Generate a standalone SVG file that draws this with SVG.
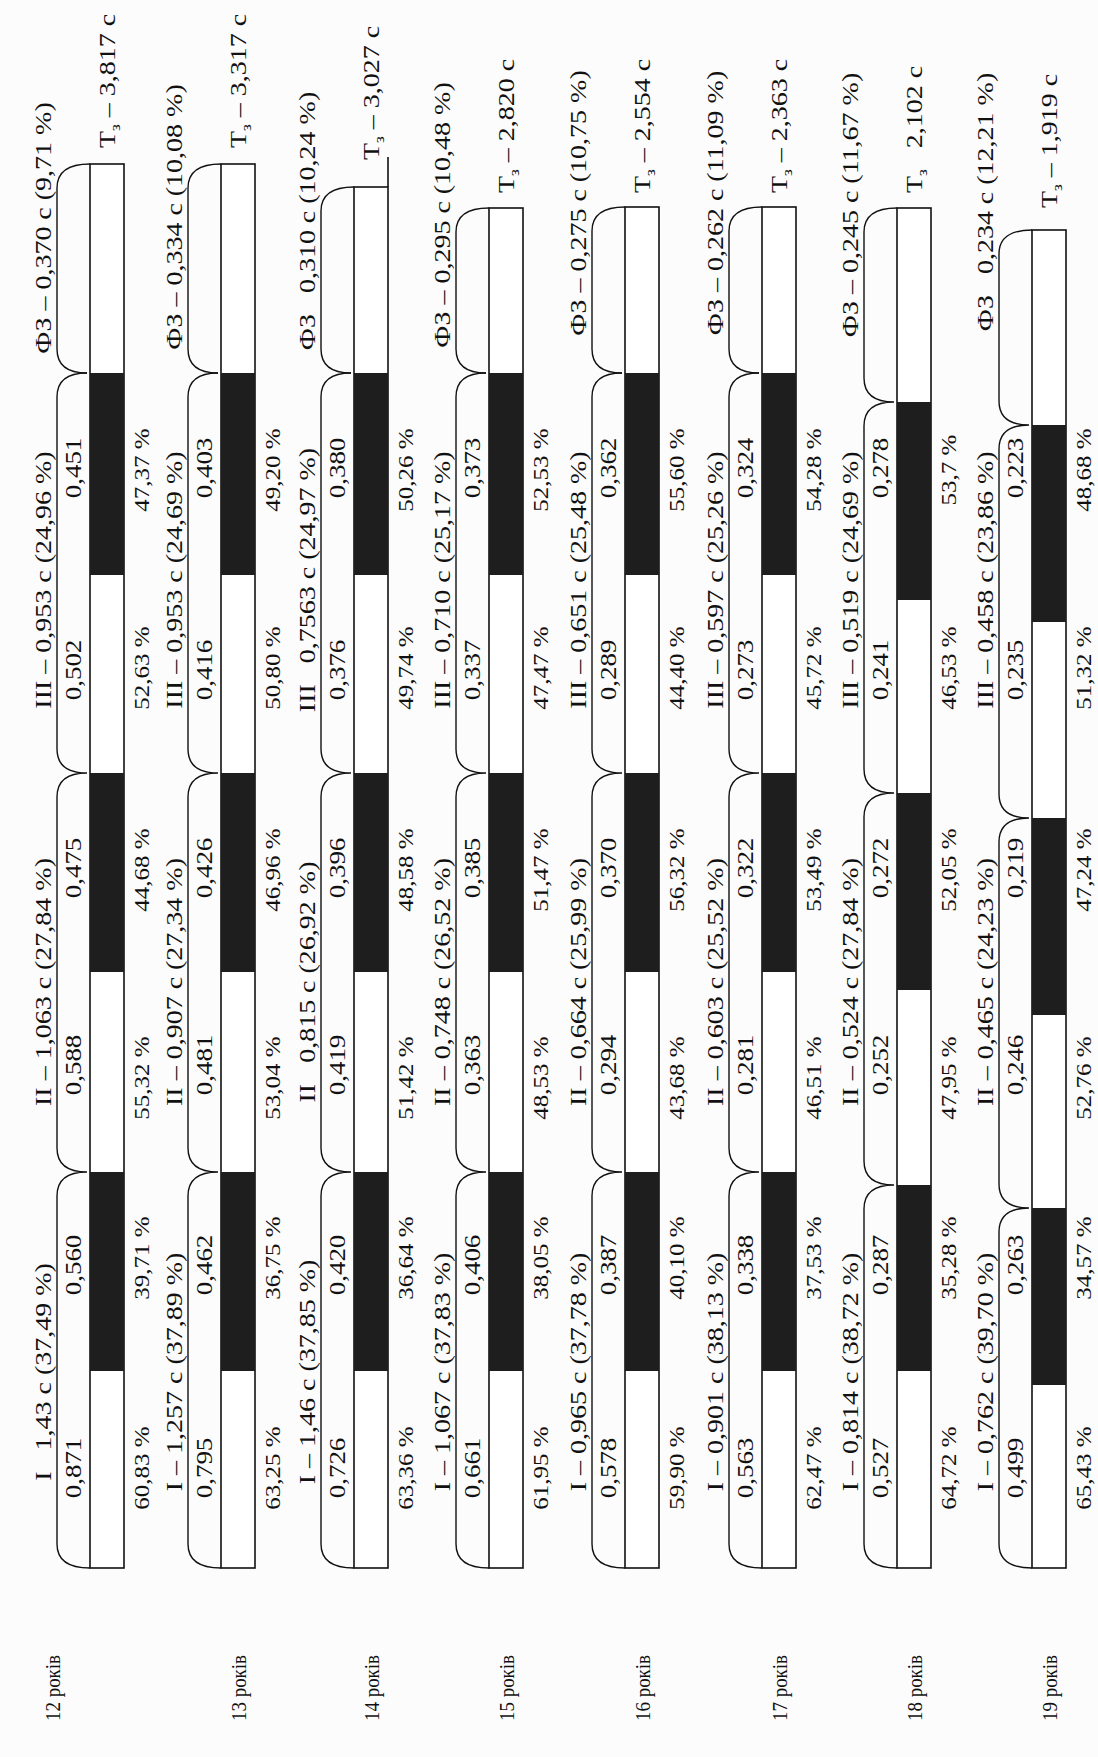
<svg xmlns="http://www.w3.org/2000/svg" xmlns:xlink="http://www.w3.org/1999/xlink" width="1098" height="1757" viewBox="0 0 1098 1757">
<style>
text{font-family:"Liberation Serif","Times New Roman",serif;fill:#111;dominant-baseline:central}
.lb{font-size:28px;text-anchor:middle}
.v{font-size:27px;text-anchor:middle}
.p{font-size:25px;text-anchor:middle}
.t{font-size:28px;text-anchor:start}
.age{font-size:22px;text-anchor:middle}
.sb{font-size:17px}
.bar{fill:#fff;stroke:#111;stroke-width:1.6}
.blk{fill:#1e1e1e}
.br{fill:none;stroke:#111;stroke-width:1.4}
.ln{stroke:#111;stroke-width:1.6}
</style>
<defs>
<g id="blkStd">
<rect class="blk" x="0" y="1172" width="34" height="199"/>
<rect class="blk" x="0" y="773" width="34" height="199"/>
<rect class="blk" x="0" y="373" width="34" height="202"/>
</g>
<path id="brStd" class="br" d="M-3,373 Q-33,373 -33,397 V749 Q-33,773 -3,773 Q-33,773 -33,797 V1148 Q-33,1172 -3,1172 Q-33,1172 -33,1196 V1544 Q-33,1568 0,1568"/>
</defs>
<rect width="1098" height="1757" fill="#fcfcfc"/>

<g id="age-12" transform="translate(90 0)">
<rect class="bar" x="0" y="164" width="34" height="1404"/>
<use xlink:href="#blkStd"/>
<path class="br" d="M0,164 Q-33,164 -33,188 V349 Q-33,373 -3,373"/>
<use xlink:href="#brStd"/>
<text class="lb" transform="matrix(0 -1 .82 0 -47 228)">ФЗ – 0,370 с (9,71 %)</text>
<text class="lb" transform="matrix(0 -1 .82 0 -47 580)">III – 0,953 с (24,96 %)</text>
<text class="lb" transform="matrix(0 -1 .82 0 -47 982)">II – 1,063 с (27,84 %)</text>
<text class="lb" transform="matrix(0 -1 .82 0 -47 1372)">I&#160;&#160; 1,43 с (37,49 %)</text>
<text class="v" transform="matrix(0 -1 .82 0 -17 1468)">0,871</text>
<text class="v" transform="matrix(0 -1 .82 0 -17 1265)">0,560</text>
<text class="v" transform="matrix(0 -1 .82 0 -17 1065)">0,588</text>
<text class="v" transform="matrix(0 -1 .82 0 -17 868)">0,475</text>
<text class="v" transform="matrix(0 -1 .82 0 -17 670)">0,502</text>
<text class="v" transform="matrix(0 -1 .82 0 -17 468)">0,451</text>
<text class="p" transform="matrix(0 -1 .82 0 52 1468)">60,83 %</text>
<text class="p" transform="matrix(0 -1 .82 0 52 1258)">39,71 %</text>
<text class="p" transform="matrix(0 -1 .82 0 52 1078)">55,32 %</text>
<text class="p" transform="matrix(0 -1 .82 0 52 870)">44,68 %</text>
<text class="p" transform="matrix(0 -1 .82 0 52 668)">52,63 %</text>
<text class="p" transform="matrix(0 -1 .82 0 52 470)">47,37 %</text>
<text class="t" transform="matrix(0 -1 .82 0 17 148)">Т<tspan class="sb" baseline-shift="sub">з</tspan> – 3,817 с</text>
<text class="age" transform="matrix(0 -1 1 0 -38 1688)" textLength="66" lengthAdjust="spacingAndGlyphs">12 років</text>
</g>

<g id="age-13" transform="translate(221 0)">
<rect class="bar" x="0" y="164" width="34" height="1404"/>
<use xlink:href="#blkStd"/>
<path class="br" d="M0,164 Q-33,164 -33,188 V349 Q-33,373 -3,373"/>
<use xlink:href="#brStd"/>
<text class="lb" transform="matrix(0 -1 .82 0 -47 217)">ФЗ – 0,334 с (10,08 %)</text>
<text class="lb" transform="matrix(0 -1 .82 0 -47 580)">III – 0,953 с (24,69 %)</text>
<text class="lb" transform="matrix(0 -1 .82 0 -47 982)">II – 0,907 с (27,34 %)</text>
<text class="lb" transform="matrix(0 -1 .82 0 -47 1372)">I – 1,257 с (37,89 %)</text>
<text class="v" transform="matrix(0 -1 .82 0 -17 1468)">0,795</text>
<text class="v" transform="matrix(0 -1 .82 0 -17 1265)">0,462</text>
<text class="v" transform="matrix(0 -1 .82 0 -17 1065)">0,481</text>
<text class="v" transform="matrix(0 -1 .82 0 -17 868)">0,426</text>
<text class="v" transform="matrix(0 -1 .82 0 -17 670)">0,416</text>
<text class="v" transform="matrix(0 -1 .82 0 -17 468)">0,403</text>
<text class="p" transform="matrix(0 -1 .82 0 52 1468)">63,25 %</text>
<text class="p" transform="matrix(0 -1 .82 0 52 1258)">36,75 %</text>
<text class="p" transform="matrix(0 -1 .82 0 52 1078)">53,04 %</text>
<text class="p" transform="matrix(0 -1 .82 0 52 870)">46,96 %</text>
<text class="p" transform="matrix(0 -1 .82 0 52 668)">50,80 %</text>
<text class="p" transform="matrix(0 -1 .82 0 52 470)">49,20 %</text>
<text class="t" transform="matrix(0 -1 .82 0 17 148)">Т<tspan class="sb" baseline-shift="sub">з</tspan> – 3,317 с</text>
<text class="age" transform="matrix(0 -1 1 0 17 1688)" textLength="66" lengthAdjust="spacingAndGlyphs">13 років</text>
</g>

<g id="age-14" transform="translate(354 0)">
<rect class="bar" x="0" y="187" width="34" height="1381"/>
<use xlink:href="#blkStd"/>
<line class="ln" x1="34" y1="157" x2="34" y2="187"/>
<path class="br" d="M0,187 Q-33,187 -33,211 V349 Q-33,373 -3,373"/>
<use xlink:href="#brStd"/>
<text class="lb" transform="matrix(0 -1 .82 0 -47 221)">ФЗ&#160;&#160; 0,310 с (10,24 %)</text>
<text class="lb" transform="matrix(0 -1 .82 0 -47 580)">III&#160;&#160; 0,7563 с (24,97 %)</text>
<text class="lb" transform="matrix(0 -1 .82 0 -47 982)">II&#160;&#160; 0,815 с (26,92 %)</text>
<text class="lb" transform="matrix(0 -1 .82 0 -47 1372)">I – 1,46 с (37,85 %)</text>
<text class="v" transform="matrix(0 -1 .82 0 -17 1468)">0,726</text>
<text class="v" transform="matrix(0 -1 .82 0 -17 1265)">0,420</text>
<text class="v" transform="matrix(0 -1 .82 0 -17 1065)">0,419</text>
<text class="v" transform="matrix(0 -1 .82 0 -17 868)">0,396</text>
<text class="v" transform="matrix(0 -1 .82 0 -17 670)">0,376</text>
<text class="v" transform="matrix(0 -1 .82 0 -17 468)">0,380</text>
<text class="p" transform="matrix(0 -1 .82 0 52 1468)">63,36 %</text>
<text class="p" transform="matrix(0 -1 .82 0 52 1258)">36,64 %</text>
<text class="p" transform="matrix(0 -1 .82 0 52 1078)">51,42 %</text>
<text class="p" transform="matrix(0 -1 .82 0 52 870)">48,58 %</text>
<text class="p" transform="matrix(0 -1 .82 0 52 668)">49,74 %</text>
<text class="p" transform="matrix(0 -1 .82 0 52 470)">50,26 %</text>
<text class="t" transform="matrix(0 -1 .82 0 17 160)">Т<tspan class="sb" baseline-shift="sub">з</tspan> – 3,027 с</text>
<text class="age" transform="matrix(0 -1 1 0 17 1688)" textLength="66" lengthAdjust="spacingAndGlyphs">14 років</text>
</g>

<g id="age-15" transform="translate(489 0)">
<rect class="bar" x="0" y="208" width="34" height="1360"/>
<use xlink:href="#blkStd"/>
<path class="br" d="M0,208 Q-33,208 -33,232 V349 Q-33,373 -3,373"/>
<use xlink:href="#brStd"/>
<text class="lb" transform="matrix(0 -1 .82 0 -47 215)">ФЗ – 0,295 с (10,48 %)</text>
<text class="lb" transform="matrix(0 -1 .82 0 -47 580)">III – 0,710 с (25,17 %)</text>
<text class="lb" transform="matrix(0 -1 .82 0 -47 982)">II – 0,748 с (26,52 %)</text>
<text class="lb" transform="matrix(0 -1 .82 0 -47 1372)">I – 1,067 с (37,83 %)</text>
<text class="v" transform="matrix(0 -1 .82 0 -17 1468)">0,661</text>
<text class="v" transform="matrix(0 -1 .82 0 -17 1265)">0,406</text>
<text class="v" transform="matrix(0 -1 .82 0 -17 1065)">0,363</text>
<text class="v" transform="matrix(0 -1 .82 0 -17 868)">0,385</text>
<text class="v" transform="matrix(0 -1 .82 0 -17 670)">0,337</text>
<text class="v" transform="matrix(0 -1 .82 0 -17 468)">0,373</text>
<text class="p" transform="matrix(0 -1 .82 0 52 1468)">61,95 %</text>
<text class="p" transform="matrix(0 -1 .82 0 52 1258)">38,05 %</text>
<text class="p" transform="matrix(0 -1 .82 0 52 1078)">48,53 %</text>
<text class="p" transform="matrix(0 -1 .82 0 52 870)">51,47 %</text>
<text class="p" transform="matrix(0 -1 .82 0 52 668)">47,47 %</text>
<text class="p" transform="matrix(0 -1 .82 0 52 470)">52,53 %</text>
<text class="t" transform="matrix(0 -1 .82 0 17 193)">Т<tspan class="sb" baseline-shift="sub">з</tspan> – 2,820 с</text>
<text class="age" transform="matrix(0 -1 1 0 17 1688)" textLength="66" lengthAdjust="spacingAndGlyphs">15 років</text>
</g>

<g id="age-16" transform="translate(625 0)">
<rect class="bar" x="0" y="207" width="34" height="1361"/>
<use xlink:href="#blkStd"/>
<path class="br" d="M0,207 Q-33,207 -33,231 V349 Q-33,373 -3,373"/>
<use xlink:href="#brStd"/>
<text class="lb" transform="matrix(0 -1 .82 0 -47 203)">ФЗ – 0,275 с (10,75 %)</text>
<text class="lb" transform="matrix(0 -1 .82 0 -47 580)">III – 0,651 с (25,48 %)</text>
<text class="lb" transform="matrix(0 -1 .82 0 -47 982)">II – 0,664 с (25,99 %)</text>
<text class="lb" transform="matrix(0 -1 .82 0 -47 1372)">I – 0,965 с (37,78 %)</text>
<text class="v" transform="matrix(0 -1 .82 0 -17 1468)">0,578</text>
<text class="v" transform="matrix(0 -1 .82 0 -17 1265)">0,387</text>
<text class="v" transform="matrix(0 -1 .82 0 -17 1065)">0,294</text>
<text class="v" transform="matrix(0 -1 .82 0 -17 868)">0,370</text>
<text class="v" transform="matrix(0 -1 .82 0 -17 670)">0,289</text>
<text class="v" transform="matrix(0 -1 .82 0 -17 468)">0,362</text>
<text class="p" transform="matrix(0 -1 .82 0 52 1468)">59,90 %</text>
<text class="p" transform="matrix(0 -1 .82 0 52 1258)">40,10 %</text>
<text class="p" transform="matrix(0 -1 .82 0 52 1078)">43,68 %</text>
<text class="p" transform="matrix(0 -1 .82 0 52 870)">56,32 %</text>
<text class="p" transform="matrix(0 -1 .82 0 52 668)">44,40 %</text>
<text class="p" transform="matrix(0 -1 .82 0 52 470)">55,60 %</text>
<text class="t" transform="matrix(0 -1 .82 0 17 193)">Т<tspan class="sb" baseline-shift="sub">з</tspan> – 2,554 с</text>
<text class="age" transform="matrix(0 -1 1 0 17 1688)" textLength="66" lengthAdjust="spacingAndGlyphs">16 років</text>
</g>

<g id="age-17" transform="translate(762 0)">
<rect class="bar" x="0" y="207" width="34" height="1361"/>
<use xlink:href="#blkStd"/>
<path class="br" d="M0,207 Q-33,207 -33,231 V349 Q-33,373 -3,373"/>
<use xlink:href="#brStd"/>
<text class="lb" transform="matrix(0 -1 .82 0 -47 203)">ФЗ – 0,262 с (11,09 %)</text>
<text class="lb" transform="matrix(0 -1 .82 0 -47 580)">III – 0,597 с (25,26 %)</text>
<text class="lb" transform="matrix(0 -1 .82 0 -47 982)">II – 0,603 с (25,52 %)</text>
<text class="lb" transform="matrix(0 -1 .82 0 -47 1372)">I – 0,901 с (38,13 %)</text>
<text class="v" transform="matrix(0 -1 .82 0 -17 1468)">0,563</text>
<text class="v" transform="matrix(0 -1 .82 0 -17 1265)">0,338</text>
<text class="v" transform="matrix(0 -1 .82 0 -17 1065)">0,281</text>
<text class="v" transform="matrix(0 -1 .82 0 -17 868)">0,322</text>
<text class="v" transform="matrix(0 -1 .82 0 -17 670)">0,273</text>
<text class="v" transform="matrix(0 -1 .82 0 -17 468)">0,324</text>
<text class="p" transform="matrix(0 -1 .82 0 52 1468)">62,47 %</text>
<text class="p" transform="matrix(0 -1 .82 0 52 1258)">37,53 %</text>
<text class="p" transform="matrix(0 -1 .82 0 52 1078)">46,51 %</text>
<text class="p" transform="matrix(0 -1 .82 0 52 870)">53,49 %</text>
<text class="p" transform="matrix(0 -1 .82 0 52 668)">45,72 %</text>
<text class="p" transform="matrix(0 -1 .82 0 52 470)">54,28 %</text>
<text class="t" transform="matrix(0 -1 .82 0 17 193)">Т<tspan class="sb" baseline-shift="sub">з</tspan> – 2,363 с</text>
<text class="age" transform="matrix(0 -1 1 0 17 1688)" textLength="66" lengthAdjust="spacingAndGlyphs">17 років</text>
</g>

<g id="age-18" transform="translate(897 0)">
<rect class="bar" x="0" y="208" width="34" height="1360"/>
<rect class="blk" x="0" y="1185" width="34" height="186"/>
<rect class="blk" x="0" y="793" width="34" height="197"/>
<rect class="blk" x="0" y="402" width="34" height="198"/>
<path class="br" d="M0,208 Q-33,208 -33,232 V378 Q-33,402 -3,402 Q-33,402 -33,426 V769 Q-33,793 -3,793 Q-33,793 -33,817 V1161 Q-33,1185 -3,1185 Q-33,1185 -33,1209 V1544 Q-33,1568 0,1568"/>
<text class="lb" transform="matrix(0 -1 .82 0 -47 205)">ФЗ – 0,245 с (11,67 %)</text>
<text class="lb" transform="matrix(0 -1 .82 0 -47 580)">III – 0,519 с (24,69 %)</text>
<text class="lb" transform="matrix(0 -1 .82 0 -47 982)">II – 0,524 с (27,84 %)</text>
<text class="lb" transform="matrix(0 -1 .82 0 -47 1372)">I – 0,814 с (38,72 %)</text>
<text class="v" transform="matrix(0 -1 .82 0 -17 1468)">0,527</text>
<text class="v" transform="matrix(0 -1 .82 0 -17 1265)">0,287</text>
<text class="v" transform="matrix(0 -1 .82 0 -17 1065)">0,252</text>
<text class="v" transform="matrix(0 -1 .82 0 -17 868)">0,272</text>
<text class="v" transform="matrix(0 -1 .82 0 -17 670)">0,241</text>
<text class="v" transform="matrix(0 -1 .82 0 -17 468)">0,278</text>
<text class="p" transform="matrix(0 -1 .82 0 52 1468)">64,72 %</text>
<text class="p" transform="matrix(0 -1 .82 0 52 1258)">35,28 %</text>
<text class="p" transform="matrix(0 -1 .82 0 52 1078)">47,95 %</text>
<text class="p" transform="matrix(0 -1 .82 0 52 870)">52,05 %</text>
<text class="p" transform="matrix(0 -1 .82 0 52 668)">46,53 %</text>
<text class="p" transform="matrix(0 -1 .82 0 52 470)">53,7 %</text>
<text class="t" transform="matrix(0 -1 .82 0 17 193)">Т<tspan class="sb" baseline-shift="sub">з</tspan>&#160;&#160; 2,102 с</text>
<text class="age" transform="matrix(0 -1 1 0 17 1688)" textLength="66" lengthAdjust="spacingAndGlyphs">18 років</text>
</g>

<g id="age-19" transform="translate(1032 0)">
<rect class="bar" x="0" y="230" width="34" height="1338"/>
<rect class="blk" x="0" y="1208" width="34" height="177"/>
<rect class="blk" x="0" y="818" width="34" height="197"/>
<rect class="blk" x="0" y="425" width="34" height="197"/>
<path class="br" d="M0,230 Q-33,230 -33,254 V401 Q-33,425 -3,425 Q-33,425 -33,449 V794 Q-33,818 -3,818 Q-33,818 -33,842 V1184 Q-33,1208 -3,1208 Q-33,1208 -33,1232 V1544 Q-33,1568 0,1568"/>
<text class="lb" transform="matrix(0 -1 .82 0 -47 202)">ФЗ&#160;&#160; 0,234 с (12,21 %)</text>
<text class="lb" transform="matrix(0 -1 .82 0 -47 580)">III – 0,458 с (23,86 %)</text>
<text class="lb" transform="matrix(0 -1 .82 0 -47 982)">II – 0,465 с (24,23 %)</text>
<text class="lb" transform="matrix(0 -1 .82 0 -47 1372)">I – 0,762 с (39,70 %)</text>
<text class="v" transform="matrix(0 -1 .82 0 -17 1468)">0,499</text>
<text class="v" transform="matrix(0 -1 .82 0 -17 1265)">0,263</text>
<text class="v" transform="matrix(0 -1 .82 0 -17 1065)">0,246</text>
<text class="v" transform="matrix(0 -1 .82 0 -17 868)">0,219</text>
<text class="v" transform="matrix(0 -1 .82 0 -17 670)">0,235</text>
<text class="v" transform="matrix(0 -1 .82 0 -17 468)">0,223</text>
<text class="p" transform="matrix(0 -1 .82 0 52 1468)">65,43 %</text>
<text class="p" transform="matrix(0 -1 .82 0 52 1258)">34,57 %</text>
<text class="p" transform="matrix(0 -1 .82 0 52 1078)">52,76 %</text>
<text class="p" transform="matrix(0 -1 .82 0 52 870)">47,24 %</text>
<text class="p" transform="matrix(0 -1 .82 0 52 668)">51,32 %</text>
<text class="p" transform="matrix(0 -1 .82 0 52 470)">48,68 %</text>
<text class="t" transform="matrix(0 -1 .82 0 17 208)">Т<tspan class="sb" baseline-shift="sub">з</tspan> – 1,919 с</text>
<text class="age" transform="matrix(0 -1 1 0 17 1688)" textLength="66" lengthAdjust="spacingAndGlyphs">19 років</text>
</g>
</svg>
